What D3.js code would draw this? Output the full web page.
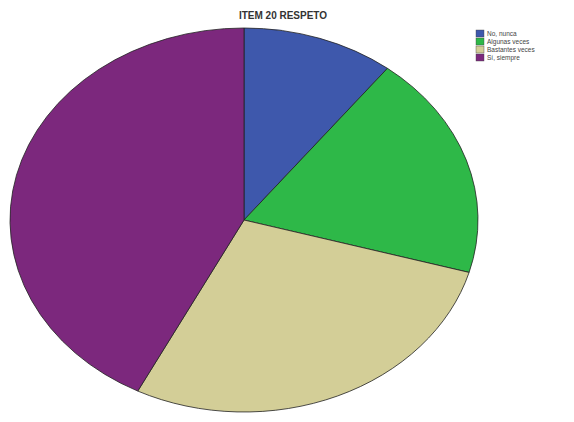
<!DOCTYPE html>
<html><head><meta charset="utf-8">
<script src="https://cdn.jsdelivr.net/npm/d3@7"></script>
<style>html,body{margin:0;padding:0;background:#fff}</style>
</head><body>
<svg id="c" width="574" height="422"></svg>
<script>
const categories = ["No, nunca", "Algunas veces", "Bastantes veces", "Sí, siempre"];
const values = [10.5, 18.9, 28.1, 42.5];
const colors = ["#3E58AC", "#2EB848", "#D3CE97", "#7C287D"];
const title = "ITEM 20 RESPETO";

const svg = d3.select("#c");
const cx = 244, cy = 220, rx = 234, ry = 192;

const pie = d3.pie().sort(null).value(d => d)(values);
const arc = d3.arc().innerRadius(0).outerRadius(1);
const g = svg.append("g").attr("transform", `translate(${cx},${cy}) scale(${rx},${ry})`);
g.selectAll("path").data(pie).join("path")
  .attr("d", arc)
  .attr("fill", (d, i) => colors[i])
  .attr("stroke", "#222")
  .attr("stroke-width", 0.8)
  .attr("vector-effect", "non-scaling-stroke");

svg.append("text").attr("x", 283).attr("y", 19)
  .attr("text-anchor", "middle")
  .attr("font-family", "Liberation Sans, Arial, sans-serif")
  .attr("font-weight", "bold").attr("font-size", 10)
  .attr("fill", "#333").text(title);

const lg = svg.append("g").attr("transform", "translate(476,30)");
const rows = lg.selectAll("g").data(categories).join("g")
  .attr("transform", (d, i) => `translate(0,${i * 8})`);
rows.append("rect").attr("width", 8).attr("height", 7)
  .attr("fill", (d, i) => colors[i]).attr("stroke", "#444").attr("stroke-width", 0.4);
rows.append("text").attr("x", 11).attr("y", 6)
  .attr("font-family", "Liberation Sans, Arial, sans-serif")
  .attr("font-size", 6.5).attr("fill", "#444").text(d => d);
</script>
</body></html>
